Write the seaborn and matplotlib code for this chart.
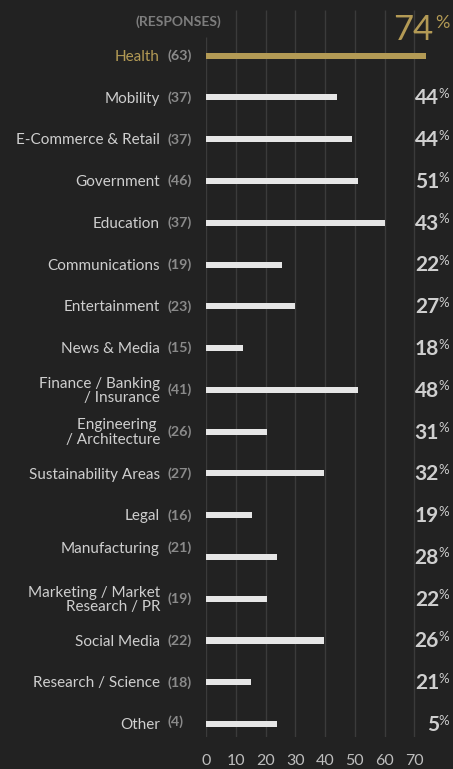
import matplotlib
matplotlib.use("Agg")
import matplotlib.pyplot as plt
import seaborn as sns
import pandas as pd

# ---- data -------------------------------------------------------------
categories = [
    "Health", "Mobility", "E-Commerce & Retail", "Government", "Education",
    "Communications", "Entertainment", "News & Media",
    "Finance / Banking\n/ Insurance", "Engineering \n/ Architecture",
    "Sustainability Areas", "Legal", "Manufacturing",
    "Marketing / Market\nResearch / PR", "Social Media", "Research / Science",
    "Other",
]
responses = [63, 37, 37, 46, 37, 19, 23, 15, 41, 26, 27, 16, 21, 19, 22, 18, 4]
bar_values = [74, 44, 49, 51, 60, 25.5, 30, 12.5, 51, 20.5, 39.5, 15.5, 24,
              20.5, 39.5, 15, 24]
share_pct = [74, 44, 44, 51, 43, 22, 27, 18, 48, 31, 32, 19, 28, 22, 26, 21, 5]
x_ticks = [0, 10, 20, 30, 40, 50, 60, 70]

# ---- style ------------------------------------------------------------
BG = "#222222"
GRID = "#3b3b3b"
GOLD = "#b39a55"
BAR = "#e6e6e6"
LABEL = "#cfcfcf"
COUNT = "#8a8a8a"

sns.set_theme(style="dark")
plt.rcParams["font.family"] = ["Lato", "DejaVu Sans"]

df = pd.DataFrame({"category": categories, "value": bar_values})
palette = {c: (GOLD if i == 0 else BAR) for i, c in enumerate(categories)}

W, H = 453, 769
fig = plt.figure(figsize=(W / 100, H / 100), dpi=100, facecolor=BG)

# axes: x=0 at 206 px, 2.976 px per unit; rows from y=10 px to y=737 px
px_per_unit = 2.976
left_px, top_px, bottom_px = 206, 10, 737
xmax = (W - left_px) / px_per_unit
ax = fig.add_axes([left_px / W, 1 - bottom_px / H,
                   (W - left_px) / W, (bottom_px - top_px) / H])
ax.set_facecolor(BG)

sns.barplot(data=df, x="value", y="category", hue="category",
            palette=palette, orient="h", width=0.145, legend=False,
            ax=ax, zorder=3, saturation=1, linewidth=0, edgecolor="none")

row_px = 41.77
y_top = (top_px - 55.7) / row_px
y_bot = (bottom_px - 55.7) / row_px
ax.set_xlim(0, xmax)
ax.set_ylim(y_bot, y_top)

# vertical gridlines
for t in x_ticks:
    y0 = -0.45 if t == 0 else y_top
    ax.vlines(t, y0, y_bot, color=GRID, lw=1, zorder=1)

for s in ax.spines.values():
    s.set_visible(False)
ax.set_xlabel("")
ax.set_ylabel("")
ax.set_yticks([])
ax.set_xticks(x_ticks)
ax.set_xticklabels([str(t) for t in x_ticks], color="#bdbdbd", fontsize=11.5)
ax.tick_params(axis="x", length=0, pad=12)

# header
fig.text(221 / W, 1 - 22 / H, "(RESPONSES)", ha="right", va="center",
         color="#7d7d7d", fontsize=10, fontweight="bold")

# per-row labels
label_offsets = {"Manufacturing": 6.5}
for i, (cat, n, pct) in enumerate(zip(categories, responses, share_pct)):
    col = GOLD if i == 0 else LABEL
    dy = label_offsets.get(cat, 0)
    ax.annotate(cat, xy=(160 / W, i), xycoords=("figure fraction", "data"),
                xytext=(0, dy - 0.8), textcoords="offset points",
                ha="right", va="center", color=col, fontsize=11,
                linespacing=1.05)
    ax.annotate(f"({n})", xy=(168 / W, i), xycoords=("figure fraction", "data"),
                xytext=(0, dy + (1.5 if cat == "Other" else 0)),
                textcoords="offset points",
                ha="left", va="center", color=COUNT, fontsize=10.3,
                fontweight="bold")
    if i == 0:
        ax.annotate(f"{pct}", xy=(433 / W, i), xycoords=("figure fraction", "data"),
                    xytext=(0, 11.3), textcoords="offset points",
                    ha="right", va="baseline", color=GOLD, fontsize=25)
        ax.annotate("%", xy=(435 / W, i), xycoords=("figure fraction", "data"),
                    xytext=(0, 29.5), textcoords="offset points",
                    ha="left", va="top", color=GOLD, fontsize=13)
    else:
        ax.annotate(f"{pct}", xy=(439 / W, i), xycoords=("figure fraction", "data"),
                    xytext=(0, -5.0), textcoords="offset points",
                    ha="right", va="baseline", color=LABEL, fontsize=15,
                    fontweight="bold")
        ax.annotate("%", xy=(438 / W, i), xycoords=("figure fraction", "data"),
                    xytext=(0, 6.8), textcoords="offset points",
                    ha="left", va="top", color=LABEL, fontsize=9.5)

fig.savefig("out.png", dpi=100, facecolor=BG)
